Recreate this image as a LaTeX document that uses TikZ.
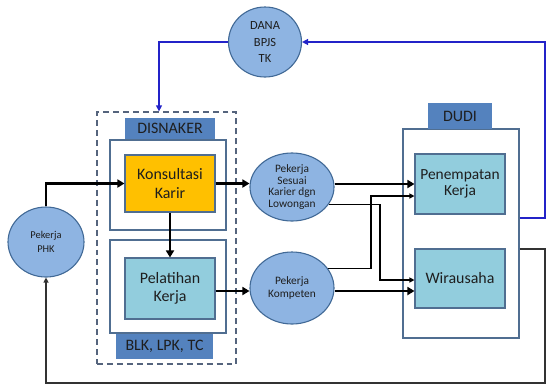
\documentclass[tikz,border=0pt]{standalone}
\usepackage{fontspec}
\setmainfont{Carlito}
\usetikzlibrary{shapes.geometric,arrows.meta,calc}
\definecolor{circfill}{RGB}{142,180,226}
\definecolor{circdraw}{RGB}{65,105,150}
\definecolor{labfill}{RGB}{84,130,190}
\definecolor{boxdraw}{RGB}{80,110,145}
\definecolor{orangefill}{RGB}{255,192,0}
\definecolor{tealfill}{RGB}{146,205,221}
\definecolor{dashcol}{RGB}{85,100,125}
\definecolor{fbblue}{RGB}{35,35,200}
\definecolor{txt}{RGB}{30,30,30}
\tikzset{
  bubble/.style={ellipse, draw=circdraw, line width=1.1pt, fill=circfill, text=txt, align=center, inner sep=0pt},
  smalltext/.style={font=\fontsize{11.4}{11.6}\selectfont},
  bigtext/.style={font=\fontsize{16}{18.5}\selectfont},
  whitebox/.style={rectangle, draw=boxdraw, line width=1.1pt, fill=white, inner sep=0pt},
  labbox/.style={rectangle, fill=labfill, text=txt, inner sep=0pt, bigtext},
  procbox/.style={rectangle, draw=boxdraw, line width=1.1pt, text=txt, align=center, inner sep=0pt, bigtext},
  thickarrow/.style={line width=2.3pt, -{Triangle[length=7pt,width=8pt]}},
  thinarrow/.style={line width=1.2pt, -{Triangle[length=5pt,width=5pt]}},
  fbline/.style={line width=1.1pt, draw={rgb,255:red,50;green,50;blue,50}, -{Triangle[length=5pt,width=5pt]}},
  blueline/.style={line width=1.3pt, draw=fbblue, -{Triangle[length=6pt,width=6pt]}},
}
\begin{document}
\begin{tikzpicture}[x=1bp,y=-1bp]
\useasboundingbox (0,0) rectangle (546,385);
% containers
\node[rectangle, draw=dashcol, line width=1.3pt, dash pattern=on 6pt off 4pt, minimum width=139bp, minimum height=252bp, inner sep=0pt] (dashbox) at (166.5,238) {};
\node[whitebox, minimum width=116bp, minimum height=90bp] (upbox) at (168,185) {};
\node[whitebox, minimum width=116bp, minimum height=93bp] (lowbox) at (168,286.5) {};
\node[labbox, minimum width=90bp, minimum height=21bp] (disnaker) at (170,128.5) {DISNAKER};
\node[labbox, minimum width=97bp, minimum height=25bp] (blk) at (164.5,346.5) {BLK, LPK, TC};
\node[whitebox, minimum width=116bp, minimum height=209bp] (dudi) at (461,233.5) {};
\node[labbox, minimum width=64bp, minimum height=26bp] (dudilab) at (460,116) {DUDI};
% process boxes
\node[procbox, fill=orangefill, minimum width=90bp, minimum height=57bp] (konsul) at (170,183.5) {Konsultasi\\Karir};
\node[procbox, fill=tealfill, minimum width=90bp, minimum height=61bp] (pelat) at (170,288.5) {Pelatihan\\Kerja};
\node[procbox, fill=tealfill, minimum width=90bp, minimum height=60bp, font=\fontsize{15.5}{16.5}\selectfont] (pen) at (460,184) {Penempatan\\Kerja};
\node[procbox, fill=tealfill, minimum width=90bp, minimum height=59bp] (wira) at (460,278.5) {Wirausaha};
% bubbles
\node[bubble, minimum width=73bp, minimum height=70bp, font=\fontsize{12.5}{17}\selectfont] (dana) at (265,42) {DANA\\BPJS\\TK};
\node[bubble, minimum width=76bp, minimum height=70bp, font=\fontsize{10.5}{13.7}\selectfont] (phk) at (46,242) {Pekerja\\PHK};
\node[bubble, smalltext, minimum width=84bp, minimum height=68bp] (sesuai) at (292,187) {Pekerja\\Sesuai\\Karier dgn\\Lowongan};
\node[bubble, minimum width=84bp, minimum height=72bp, font=\fontsize{11.4}{12.7}\selectfont] (kompeten) at (292,288) {Pekerja\\Kompeten};
% thick flows
\draw[thickarrow] (phk.north) |- (konsul.west);
\draw[thickarrow] (konsul.south) -- (pelat.north);
\draw[thickarrow] (konsul.east) -- (sesuai.west |- konsul.east);
\draw[thickarrow] (pelat.east |- 0,291) -- (kompeten.west |- 0,291);
\draw[thickarrow] (sesuai.east |- pen.west) -- (pen.west);
\draw[thickarrow] (kompeten.east |- 0,291) -- (wira.west |- 0,291);
% thin cross flows
\draw[thinarrow] (sesuai.-25) -| (380,280) -- (wira.west |- 0,280);
\draw[thinarrow] (kompeten.29) -| (371,196) -- (pen.west |- 0,196);
% feedback loops
\draw[fbline] (dudi.east |- 0,249) -| (545,383) -| (phk.south);
\draw[blueline] (dudi.east |- 0,218) -| (545,42) -- (dana.east);
\draw[blueline] (dana.west) -| ([xshift=-7.5bp]dashbox.north);
\end{tikzpicture}
\end{document}
